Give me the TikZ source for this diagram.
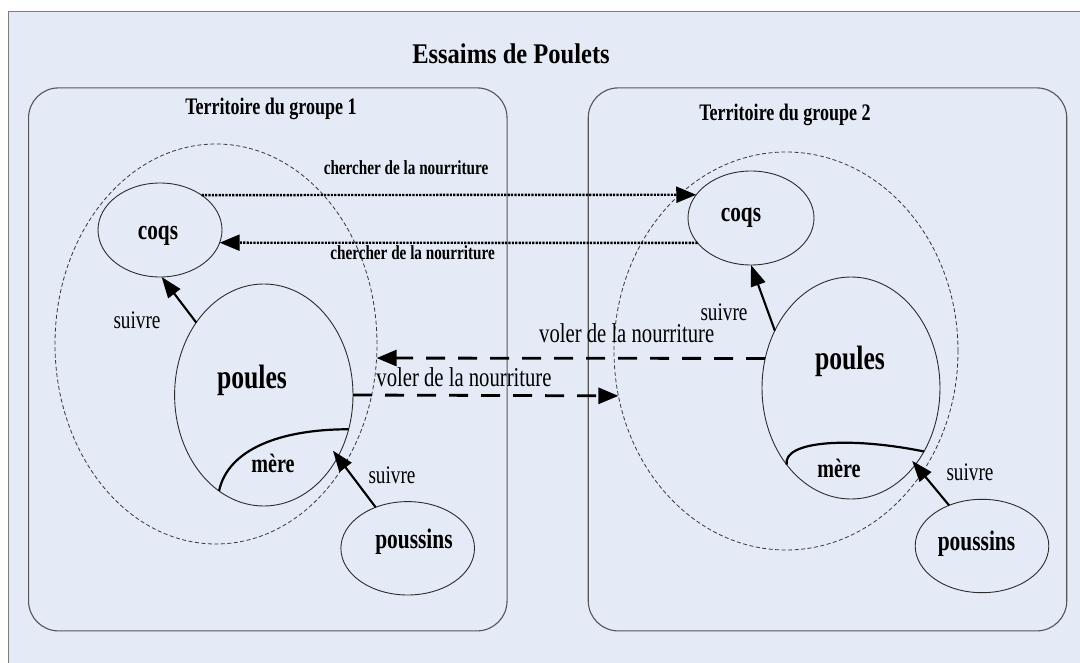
\documentclass[tikz,border=0pt]{standalone}
\usepackage{fontspec}
\setmainfont{Liberation Serif}[FakeStretch=0.76]
\newfontfamily\headfont{Liberation Serif}[FakeStretch=0.86]
\usetikzlibrary{shapes.geometric,arrows.meta}
\newcommand\fsz[1]{\fontsize{#1}{#1}\selectfont}
\definecolor{panel}{RGB}{228,235,246}
\definecolor{frameline}{RGB}{125,125,125}
\definecolor{boxline}{RGB}{85,85,85}
\definecolor{ink}{RGB}{20,20,20}
\tikzset{
  territory/.style={draw=boxline, line width=1.1pt, rounded corners=30pt, inner sep=0, outer sep=0,
    minimum width=478.5pt, minimum height=543pt},
  swarm/.style={ellipse, draw=ink!85, line width=0.8pt, dash pattern=on 4pt off 2.5pt, inner sep=0, outer sep=0},
  flock/.style={ellipse, draw=ink!90, line width=0.9pt, inner sep=0, outer sep=0},
  txt/.style={inner sep=0, anchor=base, text=black},
  tip/.style={-{Triangle[length=20pt,width=16pt]}},
  forage/.style={tip, line width=2.4pt, dash pattern=on 2.2pt off 1.2pt, draw=black},
  steal/.style={tip, line width=2.8pt, dash pattern=on 19pt off 13pt, draw=black},
  follow/.style={-{Triangle[length=21pt,width=15pt]}, line width=2.1pt, draw=black},
  motherarc/.style={line width=2.2pt, draw=black},
}
\begin{document}
\begin{tikzpicture}[x=1pt,y=-1pt]
\useasboundingbox (0,0) rectangle (1080,663);
\fill[white] (0,0) rectangle (1080,663);
\begin{scope}
  \clip (0,0) rectangle (1080,663);
  \draw[draw=frameline, fill=panel, line width=1.2pt] (8.3,11.4) rectangle (1090,680);
\end{scope}

% title
\node[txt] (title) at (511,63.3) {\headfont\fsz{28.5}\bfseries Essaims de Poulets};

% territories
\node[territory] (grp1) at (267.8,359.4) {};
\node[territory] (grp2) at (827.5,359.4) {};
\node[txt] (grp1lbl) at (271,115) {\fsz{23.7}\bfseries Territoire du groupe 1};
\node[txt] (grp2lbl) at (785,120.7) {\fsz{23.7}\bfseries Territoire du groupe 2};

% swarms
\node[swarm, minimum width=322pt, minimum height=400pt] (swarm1) at (216,344) {};
\node[swarm, minimum width=344pt, minimum height=398pt] (swarm2) at (786,351) {};

% group 1 members
\node[flock, minimum width=124pt, minimum height=94pt] (coqs1) at (160,230) {};
\node[flock, minimum width=178.4pt, minimum height=222pt] (poules1) at (263.8,395) {};
\node[flock, minimum width=133.6pt, minimum height=93.4pt] (poussins1) at (407.7,548.3) {};
\node[txt] (coqs1lbl) at (158,239.3) {\fsz{28}\bfseries coqs};
\node[txt] (poules1lbl) at (252,388.3) {\fsz{33.8}\bfseries poules};
\node[txt] (mere1lbl) at (273,472.7) {\fsz{26.5}\bfseries mère};
\node[txt] (poussins1lbl) at (414,548) {\fsz{28.2}\bfseries poussins};

% group 2 members
\node[flock, minimum width=126pt, minimum height=94pt] (coqs2) at (751,218) {};
\node[flock, minimum width=178pt, minimum height=222pt] (poules2) at (851,388) {};
\node[flock, minimum width=133.6pt, minimum height=93.4pt] (poussins2) at (982,546) {};
\node[txt] (coqs2lbl) at (741,221.7) {\fsz{28}\bfseries coqs};
\node[txt] (poules2lbl) at (850,370) {\fsz{33.8}\bfseries poules};
\node[txt] (mere2lbl) at (839,477.7) {\fsz{26.5}\bfseries mère};
\node[txt] (poussins2lbl) at (976.5,550) {\fsz{28.2}\bfseries poussins};

% mother sub-regions
\draw[motherarc] (poules1.245) .. controls +(9,-42) and +(-68,0) .. (poules1.-22);
\draw[motherarc] (poules2.230) .. controls +(-4,-24) and +(-74,-15) .. (poules2.-41);

% foraging between roosters
\draw[forage] (coqs1.40) -- (coqs2.157);
\draw[forage] (coqs2.205) -- (coqs1.-12);
\node[txt] (forage1lbl) at (406,175) {\fsz{20}\bfseries chercher de la nourriture};
\node[txt] (forage2lbl) at (412.6,260) {\fsz{20}\bfseries chercher de la nourriture};

% stealing food
\draw[steal] (poules2.161) -- (swarm1.-5);
\draw[steal] (poules1.east) -- (swarm2.195);
\node[txt] (steal1lbl) at (626.7,343) {\fsz{27.2}voler de la nourriture};
\node[txt] (steal2lbl) at (464,386) {\fsz{27.2}voler de la nourriture};

% following
\draw[follow] (poules1.133) -- (coqs1.-88);
\draw[follow] (poules2.143) -- (coqs2.-90);
\draw[follow, shorten >=-8pt] (poussins1.128) -- (poules1.-40);
\draw[follow, shorten >=-5pt] (poussins2.129) -- (poules2.-50);
\node[txt] (follow1lbl) at (137,329) {\fsz{25.3}suivre};
\node[txt] (follow2lbl) at (724,321) {\fsz{25.3}suivre};
\node[txt] (follow3lbl) at (392,483) {\fsz{25.3}suivre};
\node[txt] (follow4lbl) at (970,480) {\fsz{25.3}suivre};
\end{tikzpicture}
\end{document}
